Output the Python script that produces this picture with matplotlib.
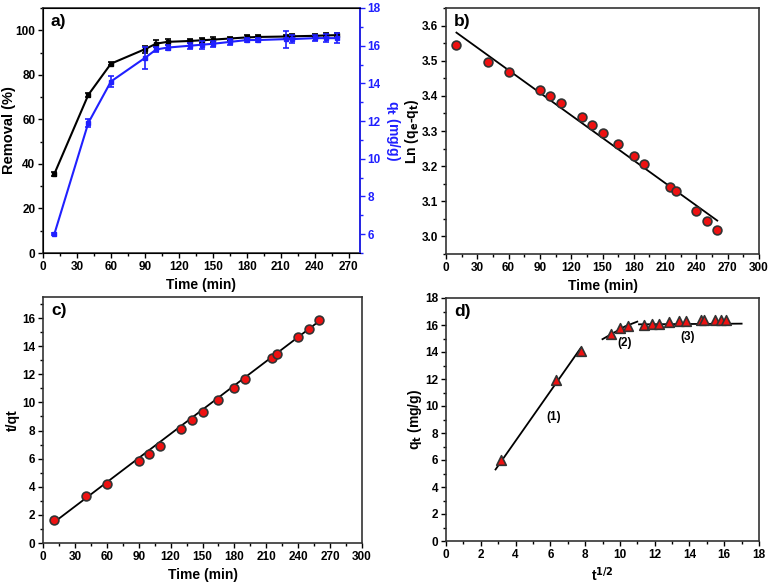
import numpy as np
import matplotlib.pyplot as plt
from matplotlib.ticker import MultipleLocator, AutoMinorLocator

plt.rcParams['font.family'] = ['Liberation Sans', 'DejaVu Sans']
plt.rcParams['font.weight'] = 'bold'
plt.rcParams['axes.labelweight'] = 'bold'
plt.rcParams['mathtext.default'] = 'bf'

# data
time = [10, 40, 60, 90, 100, 110, 130, 140, 150, 165, 180, 190, 215, 220, 240, 250, 260]
removal = [35.5, 71, 85, 91.5, 94, 94.8, 95.2, 95.5, 95.8, 96.3, 96.8, 97, 97.2, 97.3, 97.5, 97.7, 97.8]
removal_err = [0.8, 0.8, 0.8, 1.5, 1.5, 1.2, 0.9, 1.0, 1.0, 0.9, 0.9, 0.9, 0.9, 0.9, 0.9, 0.9, 0.9]
qt = [6.0, 11.9, 14.1, 15.35, 15.8, 15.9, 16.0, 16.05, 16.1, 16.2, 16.3, 16.3, 16.35, 16.35, 16.4, 16.4, 16.4]
qt_err = [0.05, 0.2, 0.3, 0.6, 0.15, 0.15, 0.15, 0.2, 0.15, 0.15, 0.1, 0.1, 0.45, 0.2, 0.15, 0.2, 0.25]

ln_qe_qt = [3.545, 3.495, 3.468, 3.416, 3.40, 3.38, 3.34, 3.317, 3.295, 3.262, 3.228,
            3.205, 3.142, 3.13, 3.073, 3.045, 3.017]
fit_b_x = [10, 260]
fit_b_y = [3.58, 3.045]

t_over_qt = [1.67, 3.37, 4.22, 5.85, 6.33, 6.9, 8.12, 8.72, 9.32, 10.2, 11.05, 11.65,
             13.15, 13.45, 14.65, 15.25, 15.85]
fit_c_x = [10, 260]
fit_c_y = [1.45, 15.8]

sqrt_t = [3.16, 6.32, 7.75, 9.49, 10.0, 10.49, 11.4, 11.83, 12.25, 12.85, 13.42, 13.78,
          14.66, 14.83, 15.49, 15.81, 16.12]
fit_d1_x = [2.85, 7.75]
fit_d1_y = [5.3, 14.3]
fit_d2_x = [9.0, 10.3, 11.0]
fit_d2_y = [14.95, 15.9, 16.25]
fit_d3_x = [11.1, 17.0]
fit_d3_y = [16.05, 16.1]

fig = plt.figure(figsize=(7.72, 5.86), dpi=100)
W, H = 772, 586
BLUE = '#2020ff'
RED = '#ee1111'
EDGE = '#333333'


def add_ax(l, r, t, b):
    return fig.add_axes([l / W, 1 - b / H, (r - l) / W, (b - t) / H])


def style(ax, ylab_x):
    ax.tick_params(which='both', direction='out', labelsize=8.5, width=1.0, pad=2)
    ax.tick_params(which='major', length=3.5)
    ax.tick_params(which='minor', length=2)
    ax.xaxis.set_minor_locator(AutoMinorLocator(2))
    ax.yaxis.set_minor_locator(AutoMinorLocator(2))
    for s in ax.spines.values():
        s.set_linewidth(1.2)
        s.set_color(EDGE)
    ax.yaxis.label.set_va('center')
    ax.yaxis.set_label_coords(ylab_x, 0.5)
    ax.xaxis.set_label_coords(0.5, -0.1)


def panel_label(ax, s):
    ax.text(0.025, 0.975, s, transform=ax.transAxes, fontsize=12.5, fontweight='bold', va='top')


# a)
ax1 = add_ax(43, 360, 8, 253)
ax1.errorbar(time, removal, yerr=removal_err, color='black', marker='s', ms=3,
             lw=1.5, capsize=2.5, elinewidth=1.2, capthick=1.2)
ax1.set_xlim(0, 280)
ax1.set_ylim(0, 110)
ax1.xaxis.set_major_locator(MultipleLocator(30))
ax1.yaxis.set_major_locator(MultipleLocator(20))
ax1.set_xlabel('Time (min)', fontsize=10)
ax1.set_ylabel('Removal (%)', fontsize=10.5)
style(ax1, -0.108)
panel_label(ax1, 'a)')

ax1b = ax1.twinx()
ax1b.errorbar(time, qt, yerr=qt_err, color=BLUE, marker='s', ms=3,
              lw=1.5, capsize=2.5, elinewidth=1.2, capthick=1.2)
ax1b.set_ylim(5, 18)
ax1b.yaxis.set_major_locator(MultipleLocator(2))
ax1b.yaxis.set_minor_locator(AutoMinorLocator(2))
ax1b.tick_params(which='both', direction='out', labelsize=8.5, colors=BLUE, width=1.0, pad=2)
ax1b.tick_params(which='major', length=3.5)
ax1b.tick_params(which='minor', length=2)
ax1b.spines['right'].set_color(BLUE)
ax1b.spines['right'].set_linewidth(1.2)
ax1b.set_ylabel('q$_t$ (mg/g)', fontsize=10, color=BLUE, rotation=270)
ax1b.yaxis.label.set_va('center')
ax1b.yaxis.set_label_coords(1.105, 0.5)

# b)
ax2 = add_ax(446, 759, 8, 254)
ax2.plot(fit_b_x, fit_b_y, color='black', lw=1.3)
ax2.scatter(time, ln_qe_qt, s=40, color=RED, edgecolor=EDGE, lw=1.2, zorder=3)
ax2.set_xlim(0, 300)
ax2.set_ylim(2.95, 3.65)
ax2.xaxis.set_major_locator(MultipleLocator(30))
ax2.yaxis.set_major_locator(MultipleLocator(0.1))
ax2.set_xlabel('Time (min)', fontsize=10)
ax2.set_ylabel('Ln (q$_e$-q$_t$)', fontsize=10)
style(ax2, -0.108)
panel_label(ax2, 'b)')

# c)
ax3 = add_ax(43, 362, 297, 543)
ax3.plot(fit_c_x, fit_c_y, color='black', lw=1.3)
ax3.scatter(time, t_over_qt, s=40, color=RED, edgecolor=EDGE, lw=1.2, zorder=3)
ax3.set_xlim(0, 300)
ax3.set_ylim(0, 17.5)
ax3.xaxis.set_major_locator(MultipleLocator(30))
ax3.yaxis.set_major_locator(MultipleLocator(2))
ax3.set_xlabel('Time (min)', fontsize=10)
ax3.set_ylabel('t/qt', fontsize=10)
style(ax3, -0.095)
panel_label(ax3, 'c)')

# d)
ax4 = add_ax(446, 759, 298, 541)
ax4.plot(fit_d1_x, fit_d1_y, color='black', lw=1.3)
ax4.plot(fit_d2_x, fit_d2_y, color='black', lw=1.3)
ax4.plot(fit_d3_x, fit_d3_y, color='black', lw=1.3)
ax4.scatter(sqrt_t, qt, s=48, marker='^', color=RED, edgecolor=EDGE, lw=1.2, zorder=3)
ax4.set_xlim(0, 18)
ax4.set_ylim(0, 18)
ax4.xaxis.set_major_locator(MultipleLocator(2))
ax4.yaxis.set_major_locator(MultipleLocator(2))
ax4.set_xlabel('t$^{1/2}$', fontsize=10)
ax4.set_ylabel('q$_t$ (mg/g)', fontsize=10)
style(ax4, -0.1)
panel_label(ax4, 'd)')
ax4.text(6.2, 9.2, '(1)', fontsize=8.5, fontweight='bold', ha='center', va='center')
ax4.text(10.3, 14.7, '(2)', fontsize=8.5, fontweight='bold', ha='center', va='center')
ax4.text(13.9, 15.1, '(3)', fontsize=8.5, fontweight='bold', ha='center', va='center')

fig.savefig('out.png', dpi=100)
